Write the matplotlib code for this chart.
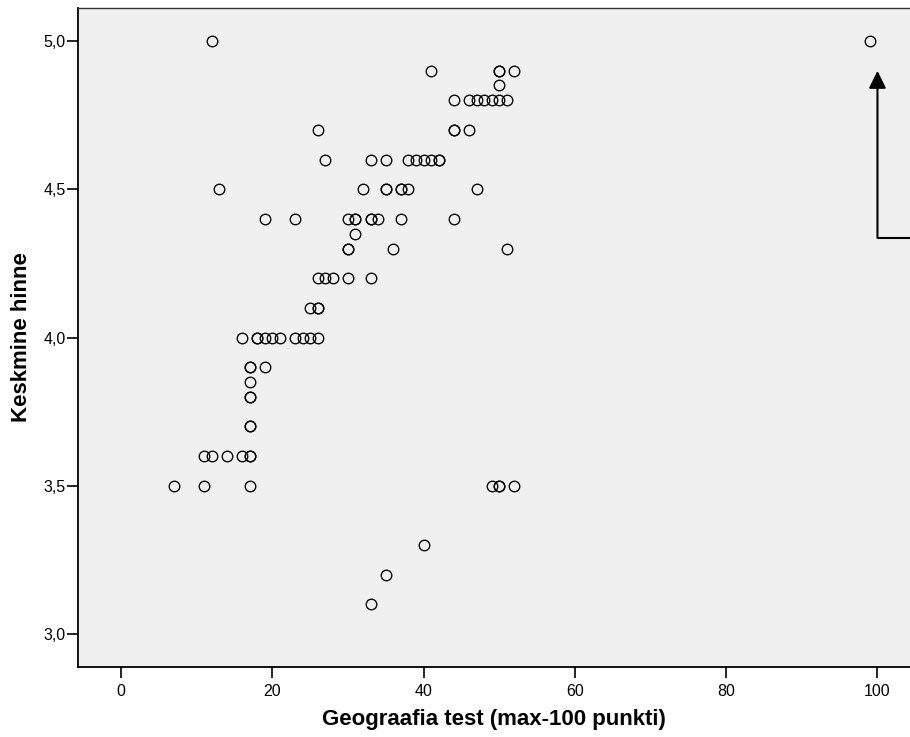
"""Geograafia test vs keskmine hinne - hajuvusdiagramm (SPSS stiilis)."""

import matplotlib
matplotlib.use("Agg")
import matplotlib.pyplot as plt
from matplotlib.ticker import FuncFormatter

plt.rcParams["font.family"] = ["Liberation Sans", "DejaVu Sans"]

# andmed: geograafia testi punktid ja keskmine hinne (paksemad ringid = kordused)
geo_score = [
    12, 99,
    41, 50, 50, 52,
    50,
    44, 46, 47, 48, 49, 50, 51,
    26, 44, 44, 46,
    27, 33, 35, 38, 39, 40, 41, 42, 42,
    13, 32, 35, 35, 37, 37, 38, 47,
    19, 23, 30, 31, 31, 33, 33, 34, 37, 44,
    31,
    30, 30, 36, 51,
    26, 27, 28, 30, 33,
    25, 26, 26,
    16, 18, 18, 19, 20, 21, 23, 24, 25, 26,
    17, 17, 19,
    17,
    17, 17,
    17, 17,
    11, 12, 14, 16, 17, 17,
    7, 11, 17, 49, 50, 50, 52,
    40, 35, 33,
]
avg_grade = [
    5.0, 5.0,
    4.9, 4.9, 4.9, 4.9,
    4.85,
    4.8, 4.8, 4.8, 4.8, 4.8, 4.8, 4.8,
    4.7, 4.7, 4.7, 4.7,
    4.6, 4.6, 4.6, 4.6, 4.6, 4.6, 4.6, 4.6, 4.6,
    4.5, 4.5, 4.5, 4.5, 4.5, 4.5, 4.5, 4.5,
    4.4, 4.4, 4.4, 4.4, 4.4, 4.4, 4.4, 4.4, 4.4, 4.4,
    4.35,
    4.3, 4.3, 4.3, 4.3,
    4.2, 4.2, 4.2, 4.2, 4.2,
    4.1, 4.1, 4.1,
    4.0, 4.0, 4.0, 4.0, 4.0, 4.0, 4.0, 4.0, 4.0, 4.0,
    3.9, 3.9, 3.9,
    3.85,
    3.8, 3.8,
    3.7, 3.7,
    3.6, 3.6, 3.6, 3.6, 3.6, 3.6,
    3.5, 3.5, 3.5, 3.5, 3.5, 3.5, 3.5,
    3.3, 3.2, 3.1,
]
x_ticks = [0, 20, 40, 60, 80, 100]
y_ticks = [3.0, 3.5, 4.0, 4.5, 5.0]

# nool erindi juurde (x=100, alates 4.34 kuni 4.9)
arrow_x, arrow_y0, arrow_y1 = 100, 4.336, 4.899

fig = plt.figure(figsize=(9.1, 7.37), dpi=100)
ax = fig.add_axes([78 / 910, 70 / 737, 1 - 78 / 910, 659 / 737])
ax.set_facecolor("#f0f0f0")

ax.plot(geo_score, avg_grade, "o", mfc="none", mec="black", ms=7.6, mew=0.95,
        linestyle="none", zorder=3)

# nool
ax.plot([arrow_x, arrow_x + 10], [arrow_y0, arrow_y0], color="black", lw=1.5,
        solid_capstyle="butt", zorder=2)
ax.annotate("", xy=(arrow_x, arrow_y1), xytext=(arrow_x, arrow_y0),
            arrowprops=dict(arrowstyle="-|>,head_length=1.05,head_width=0.52",
                            mutation_scale=10, lw=1.5, color="black",
                            shrinkA=0, shrinkB=0))

ax.set_xlim(-5.68, 104.3)
ax.set_ylim(2.889, 5.111)
ax.set_xticks(x_ticks)
ax.set_yticks(y_ticks)
ax.yaxis.set_major_formatter(FuncFormatter(lambda v, p: f"{v:.1f}".replace(".", ",")))
ax.tick_params(axis="both", direction="out", length=8, width=1.2, labelsize=11.5,
               colors="black")
ax.tick_params(axis="y", pad=1)
ax.tick_params(axis="x", pad=4)

for side in ("left", "bottom"):
    ax.spines[side].set_linewidth(1.3)
ax.spines["top"].set_linewidth(1.0)
ax.spines["top"].set_color("#333333")
ax.spines["right"].set_visible(False)

fig.text(494 / 910, 1 - 719 / 737, "Geograafia test (max-100 punkti)",
         ha="center", va="center", fontsize=16, fontweight="bold")
fig.text(22 / 910, 1 - 337 / 737, "Keskmine hinne", ha="center", va="center",
         rotation=90, fontsize=16, fontweight="bold")

fig.savefig("out.png", dpi=100)
plt.close(fig)
